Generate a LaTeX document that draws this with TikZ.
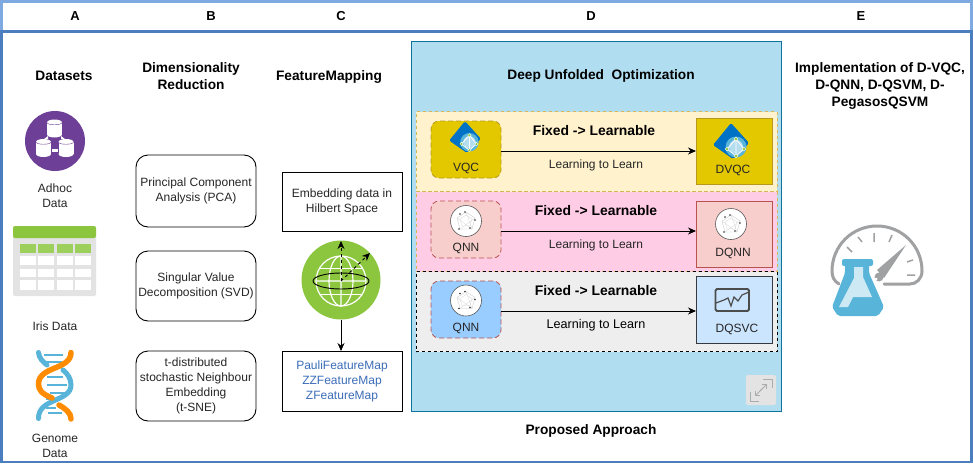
\documentclass[tikz,border=0pt]{standalone}
\usepackage{fontspec}
\setmainfont{Liberation Sans}
\usetikzlibrary{arrows.meta}
\definecolor{frameblue}{HTML}{4A7EBF}
\definecolor{topblue}{HTML}{7EA9E1}
\definecolor{panelblue}{HTML}{B1DDF0}
\definecolor{paneledge}{HTML}{10739E}
\definecolor{txt}{HTML}{262626}
\definecolor{grass}{HTML}{8CC63F}
\definecolor{azure}{HTML}{0072C6}
\definecolor{lobe}{HTML}{59B4D9}
\definecolor{tick}{HTML}{A0A1A2}
\definecolor{purp}{RGB}{109,63,150}
\definecolor{dnaorange}{HTML}{FF8C00}
\tikzset{
  x=1pt,y=-1pt,
  every node/.style={inner sep=0pt,outer sep=0pt,text=txt,align=center,font=\fontsize{12}{15}\selectfont},
  head/.style={font=\fontsize{13.7}{17}\bfseries\selectfont,text=black},
  letter/.style={font=\fontsize{13}{15}\bfseries\selectfont,text=black},
  learn/.style={font=\fontsize{12}{15}\selectfont},
  fixedlabel/.style={font=\fontsize{13.9}{15}\bfseries\selectfont,text=black},
  roundbox/.style={draw=black,line width=0.9pt,rounded corners=12pt,minimum width=120pt,fill=white},
  plainbox/.style={draw=black,line width=0.9pt,minimum width=120pt,fill=white},
  rowband/.style={dashed,line width=0.7pt,minimum width=361pt,minimum height=80pt},
  leftnode/.style={dashed,dash pattern=on 5pt off 3pt,line width=0.8pt,rounded corners=8pt,minimum width=70pt,minimum height=57pt},
  rightnode/.style={line width=0.9pt,minimum width=76pt},
  flow/.style={-{Stealth[length=8pt,width=7pt]},line width=0.9pt,black},
}
\newcommand{\qnnicon}[2]{%
  \begin{scope}[shift={(#1,#2)}]
    \fill[white,draw=gray!70!black,line width=0.6pt] (0,0) circle (15.5);
    \draw[gray!45,line width=0.3pt] (0,-9)--(9,-3)--(6,8)--(-6,8)--(-9,-3)--cycle;
    \draw[gray!30,line width=0.3pt] (0,-6)--(6,-2)--(4,5)--(-4,5)--(-6,-2)--cycle (0,-9)--(6,8) (9,-3)--(-6,8) (-9,-3)--(6,8);
    \foreach \a/\b in {-6/-7,9/-1,4/7,-7/8,-1/-9}{\fill[black!80] (\a,\b) circle (0.9);}
  \end{scope}}
\newcommand{\azureicon}[3]{%
  \begin{scope}[shift={(#1,#2)},scale=#3]
    \fill[azure,rounded corners=1.5pt] (0,-18)--(18,2)--(2,18)--(-18,4)--cycle;
    \fill[lobe] (5,6) circle (10.5);
    \fill[lobe!45!white] (5,6) circle (7);
    \draw[white,line width=0.8pt] (5,-2)--(5,15)--(13,8)--(5,-2)--(-4,8)--(5,15);
    \foreach \p in {(5,-2),(-4,8),(13,8),(5,15)}{\fill[grass,draw=white,line width=0.3pt] \p circle (1.9);}
  \end{scope}}
\begin{document}
\begin{tikzpicture}
\useasboundingbox (0,0) rectangle (973,463);
\fill[white] (0,0) rectangle (973,463);
% frame
\fill[topblue] (0,0) rectangle (973,3);
\fill[topblue] (0,0) rectangle (3,31);
\fill[topblue] (970,0) rectangle (973,31);
\fill[frameblue] (0,30) rectangle (973,33);
\fill[frameblue] (0,33) rectangle (3,463);
\fill[frameblue] (970,33) rectangle (973,463);
\fill[frameblue] (0,460.5) rectangle (973,463);
% header letters
\node[letter] (hA) at (75,16) {A};
\node[letter] (hB) at (211,16) {B};
\node[letter] (hC) at (341,16) {C};
\node[letter] (hD) at (591,16) {D};
\node[letter] (hE) at (861,16) {E};
% column A
\node[head] (datasets) at (64,76) {Datasets};
\fill[purp] (55,141) circle (30);
\foreach \cx/\cy in {54.5/128.5,43.5/148,66/148}{
  \fill[white] (\cx-7.5,\cy-6) rectangle (\cx+7.5,\cy+6);
  \fill[white] (\cx,\cy+6) ellipse (7.5 and 3);
  \fill[white] (\cx,\cy-6) ellipse (7.5 and 3);
  \draw[purp,line width=0.4pt] (\cx-7.5,\cy-6) .. controls (\cx-7.5,\cy-3) and (\cx+7.5,\cy-3) .. (\cx+7.5,\cy-6);
}
\fill[white] (52,149) rectangle (58,152);
\fill[white] (44,139)--(48,136)--(48,139)--cycle (65,139)--(61,136)--(61,139)--cycle;
\node (adhoc) at (55,196) {Adhoc\\Data};
% table icon
\fill[gray!22,rounded corners=2pt] (13,234) rectangle (96,296);
\fill[grass,rounded corners=2pt] (13,226) rectangle (96,238);
\foreach \c in {20,38,57,75}{
  \fill[grass!85!white] (\c,243.5) rectangle (\c+15.5,253);
  \fill[white] (\c,256) rectangle (\c+15.5,265);
  \fill[white] (\c,269) rectangle (\c+15.5,277);
  \fill[white] (\c,280) rectangle (\c+15.5,290);
}
\node (iris) at (55,326) {Iris Data};
% DNA
\draw[lobe,line width=1.3pt] (44,355)--(63,355) (46,362)--(62,362) (47,377)--(63,377) (47,385)--(67,385) (50,393)--(66,393) (46,399)--(60,399);
\draw[lobe,line width=5pt,line cap=round] (38.5,352.5) .. controls (39,358) and (43,362) .. (47,365);
\draw[lobe,line width=5pt,line cap=round] (63,370) .. controls (68,374) and (71,379) .. (71,385) .. controls (71,402) and (38,398) .. (38.5,418.5);
\draw[dnaorange,line width=5.5pt,line cap=round] (71,352.5) .. controls (71,370) and (38.5,366) .. (38.5,384) .. controls (38.5,390) and (42,394) .. (52,398);
\draw[dnaorange,line width=5.5pt,line cap=round] (59,405) .. controls (66,409) and (71,413) .. (71,419);
\draw[lobe,line width=1.3pt] (46,408)--(56,408) (48,413)--(62,413);
\node (genome) at (55,446) {Genome\\Data};
% column B
\node[head] (dimred) at (191,76.5) {Dimensionality\\Reduction};
\node[roundbox,minimum height=72pt] (pca) at (196,191) {Principal Component\\Analysis (PCA)};
\node[roundbox,minimum height=70pt] (svd) at (196,286) {Singular Value\\Decomposition (SVD)};
\node[roundbox,minimum height=70pt] (tsne) at (196,386) {t-distributed\\stochastic Neighbour\\Embedding\\(t-SNE)};
% column C
\node[head] (fmap) at (329,77) {FeatureMapping};
\node[plainbox,minimum height=59pt] (hilbert) at (342,201.5) {Embedding data in\\Hilbert Space};
\node[circle,fill=grass,minimum size=79pt] (globe) at (341,280) {};
\begin{scope}[shift={(341,281)}]
  \draw[white,line width=1.2pt] (0,0) circle (25);
  \draw[white,line width=1.2pt] (0,0) ellipse (12 and 25) (0,-25)--(0,25) (-25,0)--(25,0);
  \draw[white,line width=1pt] (-21,-13)--(21,-13) (-21,13)--(21,13);
  \draw[black,line width=0.9pt] (0,0) ellipse (28 and 8);
  \draw[black,dashed,line width=0.9pt,-{Stealth[length=8pt,width=7pt]}] (0,0)--(0,-40);
  \draw[black,dashed,line width=0.9pt,-{Stealth[length=8pt,width=7pt]}] (0,0)--(29,-28);
\end{scope}
\node[plainbox,minimum height=60pt] (pauli) at (342,381) {\color[HTML]{3B6DB8}PauliFeatureMap\\\color[HTML]{3B6DB8}ZZFeatureMap\\\color[HTML]{3B6DB8}ZFeatureMap};
\draw[flow] (globe.south) -- (pauli.north-|globe.south);
% column D panel
\node[draw=paneledge,fill=panelblue,line width=0.8pt,minimum width=370pt,minimum height=370pt] (panel) at (596,226) {};
\node[head] (title) at (601,76) {Deep Unfolded\ \ Optimization};
\node[rowband,fill={rgb,255:red,255;green,242;blue,204},draw={rgb,255:red,214;green,182;blue,86}] (row1) at (596.5,151.5) {};
\node[rowband,fill={rgb,255:red,255;green,204;blue,230},draw={rgb,255:red,214;green,182;blue,86}] (row2) at (596.5,231.5) {};
\node[rowband,fill={rgb,255:red,238;green,238;blue,238},draw=black] (row3) at (596.5,311.5) {};
% left nodes
\node[leftnode,fill={rgb,255:red,227;green,200;blue,0},draw={rgb,255:red,184;green,152;blue,30}] (vqc) at (466,149.5) {};
\node[leftnode,fill={rgb,255:red,248;green,206;blue,204},draw={rgb,255:red,184;green,84;blue,80}] (qnna) at (466,229.5) {};
\node[leftnode,fill={rgb,255:red,153;green,204;blue,255},draw={rgb,255:red,184;green,84;blue,80}] (qnnb) at (466,309.5) {};
\azureicon{465}{137}{0.88}
\qnnicon{466}{221}
\qnnicon{466}{300.5}
\node (vqct) at (466,168) {VQC};
\node (qnnat) at (466,248) {QNN};
\node (qnnbt) at (466,328) {QNN};
% right nodes
\node[rightnode,minimum height=66pt,fill={rgb,255:red,227;green,200;blue,0},draw={rgb,255:red,184;green,152;blue,30}] (dvqc) at (734,151) {};
\node[rightnode,minimum height=66pt,fill={rgb,255:red,248;green,206;blue,204},draw={rgb,255:red,184;green,84;blue,80}] (dqnn) at (734,234) {};
\node[rightnode,minimum height=67pt,fill={rgb,255:red,204;green,229;blue,255},draw={rgb,255:red,54;green,57;blue,61}] (dqsvc) at (734,309.5) {};
\azureicon{731}{141}{1}
\qnnicon{731}{224}
\draw[black!70,line width=1.9pt,rounded corners=1.5pt] (715.5,289)--(749,289)--(749,311)--(715.5,311)--cycle;
\draw[black!70,line width=1.2pt] (716,303)--(724,300)--(728,298)--(731,306)--(734,297)--(738,301)--(742,295)--(749,292);
\node (dvqct) at (733,170) {DVQC};
\node (dqnnt) at (733,253) {DQNN};
\node (dqsvct) at (737,329) {DQSVC};
% arrows
\draw[flow] (vqc.east|-row1.center) ++(0,-0.5) coordinate (a1) -- (dvqc.west|-a1);
\draw[flow] (qnna.east|-row2.center) ++(0,-0.5) coordinate (a2) -- (dqnn.west|-a2);
\draw[flow] (qnnb.east|-row3.center) ++(0,-0.5) coordinate (a3) -- (dqsvc.west|-a3);
% labels
\node[fixedlabel] (f1) at (594,131) {Fixed -> Learnable};
\node[fixedlabel] (f2) at (596,211) {Fixed -> Learnable};
\node[fixedlabel] (f3) at (596,291) {Fixed -> Learnable};
\node[learn] (l1) at (596,165) {Learning to Learn};
\node[learn] (l2) at (596,245) {Learning to Learn};
\node[learn,text=black,font=\fontsize{12.6}{15}\selectfont] (l3) at (596,325) {Learning to Learn};
% expand icon
\fill[gray!22,rounded corners=2pt] (746,375) rectangle (776,405);
\draw[gray!65,line width=0.8pt] (750,392)--(750,401)--(759,401) (763,379)--(772,379)--(772,388);
\draw[gray!65,line width=0.8pt,-{Straight Barb[length=3pt]}] (760,391)--(767,384);
\draw[gray!65,line width=0.8pt,-{Straight Barb[length=3pt]}] (762,389)--(755,396);
\node[head] (proposed) at (591,431) {Proposed Approach};
% column E
\node[head] (impl) at (880,86) {Implementation of D-VQC,\\D-QNN, D-QSVM, D-\\PegasosQSVM};
% gauge + flask
\draw[tick,line width=3pt,line cap=round] (839,284) .. controls (834,281) and (832,277) .. (832,271) .. controls (832,246) and (852,226) .. (877,226) .. controls (902,226) and (922,246) .. (922,271) .. controls (922,279) and (916,284) .. (910,284) -- (884,284);
\draw[tick,line width=1.5pt] (874,233)--(874,242) (858,237)--(862,242) (847,247)--(852,252) (892,235)--(889,242) (913,260)--(907,262) (915,275)--(907,275);
\fill[tick] (906,245)--(877,270)--(884,278)--cycle;
\fill[tick] (879,277) circle (4.5);
\fill[white] (876,279) circle (1.5);
\fill[lobe,rounded corners=2pt] (842,259) rectangle (873,266);
\fill[lobe,rounded corners=2pt] (845,264)--(869,264)--(869,273)--(884,307)--(878,316)--(838,316)--(832,307)--(845,273)--cycle;
\fill[lobe!30!white] (854,267)--(863,267)--(863,277)--(872,297)--(853,297)--(848,307)--(839,307)--(854,278)--cycle;
\end{tikzpicture}
\end{document}
